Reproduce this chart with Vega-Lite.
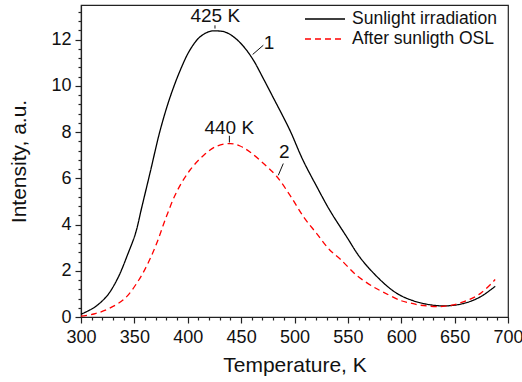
{
  "$schema": "https://vega.github.io/schema/vega-lite/v6.json",
  "width": 427,
  "height": 312,
  "autosize": {"type": "none"},
  "padding": {"left": 81, "top": 5, "right": 14, "bottom": 65},
  "background": "white",
  "config": {
    "font": "Liberation Sans",
    "view": {"stroke": "#222222", "strokeWidth": 1.2},
    "axis": {
      "domainColor": "#222222", "domainWidth": 1.2,
      "tickColor": "#222222", "tickWidth": 1.2,
      "labelColor": "#111111", "titleColor": "#111111",
      "labelFont": "Liberation Sans", "titleFont": "Liberation Sans",
      "grid": false
    },
    "legend": {"labelFont": "Liberation Sans"}
  },
  "datasets": {
    "curves": [
      {"T": 300, "I": 0.12, "series": "Sunlight irradiation"},
      {"T": 306, "I": 0.25, "series": "Sunlight irradiation"},
      {"T": 313, "I": 0.43, "series": "Sunlight irradiation"},
      {"T": 320, "I": 0.7, "series": "Sunlight irradiation"},
      {"T": 326, "I": 1.01, "series": "Sunlight irradiation"},
      {"T": 335, "I": 1.73, "series": "Sunlight irradiation"},
      {"T": 344, "I": 2.74, "series": "Sunlight irradiation"},
      {"T": 351, "I": 3.61, "series": "Sunlight irradiation"},
      {"T": 357, "I": 4.76, "series": "Sunlight irradiation"},
      {"T": 365, "I": 6.3, "series": "Sunlight irradiation"},
      {"T": 374, "I": 8.05, "series": "Sunlight irradiation"},
      {"T": 383, "I": 9.45, "series": "Sunlight irradiation"},
      {"T": 393, "I": 10.68, "series": "Sunlight irradiation"},
      {"T": 402, "I": 11.55, "series": "Sunlight irradiation"},
      {"T": 411, "I": 12.1, "series": "Sunlight irradiation"},
      {"T": 420, "I": 12.35, "series": "Sunlight irradiation"},
      {"T": 426, "I": 12.38, "series": "Sunlight irradiation"},
      {"T": 435, "I": 12.33, "series": "Sunlight irradiation"},
      {"T": 443, "I": 12.12, "series": "Sunlight irradiation"},
      {"T": 452, "I": 11.72, "series": "Sunlight irradiation"},
      {"T": 461, "I": 11.15, "series": "Sunlight irradiation"},
      {"T": 471, "I": 10.3, "series": "Sunlight irradiation"},
      {"T": 480, "I": 9.5, "series": "Sunlight irradiation"},
      {"T": 489, "I": 8.7, "series": "Sunlight irradiation"},
      {"T": 496, "I": 8.05, "series": "Sunlight irradiation"},
      {"T": 508, "I": 6.78, "series": "Sunlight irradiation"},
      {"T": 521, "I": 5.63, "series": "Sunlight irradiation"},
      {"T": 533, "I": 4.62, "series": "Sunlight irradiation"},
      {"T": 549, "I": 3.46, "series": "Sunlight irradiation"},
      {"T": 561, "I": 2.6, "series": "Sunlight irradiation"},
      {"T": 574, "I": 1.9, "series": "Sunlight irradiation"},
      {"T": 589, "I": 1.25, "series": "Sunlight irradiation"},
      {"T": 599, "I": 0.94, "series": "Sunlight irradiation"},
      {"T": 609, "I": 0.74, "series": "Sunlight irradiation"},
      {"T": 621, "I": 0.58, "series": "Sunlight irradiation"},
      {"T": 639, "I": 0.48, "series": "Sunlight irradiation"},
      {"T": 658, "I": 0.58, "series": "Sunlight irradiation"},
      {"T": 674, "I": 0.87, "series": "Sunlight irradiation"},
      {"T": 688, "I": 1.33, "series": "Sunlight irradiation"},
      {"T": 300, "I": 0.04, "series": "After sunligth OSL"},
      {"T": 312, "I": 0.13, "series": "After sunligth OSL"},
      {"T": 326, "I": 0.36, "series": "After sunligth OSL"},
      {"T": 341, "I": 0.8, "series": "After sunligth OSL"},
      {"T": 354, "I": 1.59, "series": "After sunligth OSL"},
      {"T": 363, "I": 2.35, "series": "After sunligth OSL"},
      {"T": 371, "I": 3.2, "series": "After sunligth OSL"},
      {"T": 380, "I": 4.35, "series": "After sunligth OSL"},
      {"T": 390, "I": 5.45, "series": "After sunligth OSL"},
      {"T": 402, "I": 6.35, "series": "After sunligth OSL"},
      {"T": 415, "I": 7.0, "series": "After sunligth OSL"},
      {"T": 427, "I": 7.39, "series": "After sunligth OSL"},
      {"T": 440, "I": 7.5, "series": "After sunligth OSL"},
      {"T": 449, "I": 7.4, "series": "After sunligth OSL"},
      {"T": 458, "I": 7.15, "series": "After sunligth OSL"},
      {"T": 471, "I": 6.64, "series": "After sunligth OSL"},
      {"T": 483, "I": 6.1, "series": "After sunligth OSL"},
      {"T": 496, "I": 5.25, "series": "After sunligth OSL"},
      {"T": 509, "I": 4.3, "series": "After sunligth OSL"},
      {"T": 521, "I": 3.6, "series": "After sunligth OSL"},
      {"T": 533, "I": 2.9, "series": "After sunligth OSL"},
      {"T": 543, "I": 2.5, "series": "After sunligth OSL"},
      {"T": 558, "I": 1.81, "series": "After sunligth OSL"},
      {"T": 574, "I": 1.3, "series": "After sunligth OSL"},
      {"T": 583, "I": 1.08, "series": "After sunligth OSL"},
      {"T": 599, "I": 0.72, "series": "After sunligth OSL"},
      {"T": 609, "I": 0.6, "series": "After sunligth OSL"},
      {"T": 618, "I": 0.51, "series": "After sunligth OSL"},
      {"T": 639, "I": 0.46, "series": "After sunligth OSL"},
      {"T": 658, "I": 0.65, "series": "After sunligth OSL"},
      {"T": 674, "I": 1.01, "series": "After sunligth OSL"},
      {"T": 688, "I": 1.62, "series": "After sunligth OSL"}
    ],
    "labels": [
      {"T": 425.8, "I": 12.77, "text": "425 K"},
      {"T": 438.9, "I": 7.91, "text": "440 K"},
      {"T": 476.1, "I": 11.58, "text": "1"},
      {"T": 490.4, "I": 6.86, "text": "2"}
    ],
    "leaders": [
      {"T": 425.5, "I": 12.62, "T2": 425.5, "I2": 12.48},
      {"T": 439, "I": 7.84, "T2": 439, "I2": 7.55},
      {"T": 460.8, "I": 11.36, "T2": 470.8, "I2": 11.76},
      {"T": 484.8, "I": 6.13, "T2": 489.5, "I2": 6.64}
    ]
  },
  "layer": [
    {
      "data": {"name": "curves"},
      "mark": {"type": "line", "interpolate": "catmull-rom", "strokeWidth": 1.3},
      "encoding": {
        "x": {
          "field": "T", "type": "quantitative",
          "scale": {"domain": [300, 700], "nice": false, "zero": false},
          "axis": {
            "orient": "bottom", "title": "Temperature, K",
            "values": [300, 350, 400, 450, 500, 550, 600, 650, 700],
            "tickSize": 6, "labelPadding": 5, "labelFontSize": 18,
            "titleFontSize": 21, "titleFontWeight": "normal", "titlePadding": 8,
            "labelFlush": false, "labelOverlap": false
          }
        },
        "y": {
          "field": "I", "type": "quantitative",
          "scale": {"domain": [0, 13.5], "nice": false},
          "axis": {
            "orient": "left", "title": "Intensity, a.u.",
            "values": [0, 2, 4, 6, 8, 10, 12],
            "tickSize": 6, "labelPadding": 4, "labelFontSize": 18,
            "titleFontSize": 21, "titleFontWeight": "normal", "titlePadding": 21,
            "labelFlush": false, "labelOverlap": false
          }
        },
        "color": {
          "field": "series", "type": "nominal",
          "scale": {"domain": ["Sunlight irradiation", "After sunligth OSL"], "range": ["#000000", "#ff0000"]},
          "legend": {
            "title": null, "orient": "none", "legendX": 233, "legendY": 3,
            "symbolType": "M-2,0H2", "symbolSize": 400, "symbolStrokeWidth": 1.3,
            "labelFontSize": 17.5, "labelColor": "#111111", "labelLimit": 300,
            "labelOffset": 16, "rowPadding": 0, "padding": 0
          }
        },
        "strokeDash": {
          "field": "series", "type": "nominal",
          "scale": {"domain": ["Sunlight irradiation", "After sunligth OSL"], "range": [[1, 0], [6, 4]]},
          "legend": {
            "title": null, "orient": "none", "legendX": 233, "legendY": 3,
            "symbolType": "M-2,0H2", "symbolSize": 400, "symbolStrokeWidth": 1.3,
            "labelFontSize": 17.5, "labelColor": "#111111", "labelLimit": 300,
            "labelOffset": 16, "rowPadding": 0, "padding": 0
          }
        }
      }
    },
    {
      "data": {"name": "curves"},
      "mark": {"type": "point", "opacity": 0},
      "encoding": {
        "x": {
          "field": "T", "type": "quantitative",
          "axis": {
            "orient": "bottom", "title": null, "labels": false, "domain": false,
            "values": [310, 320, 330, 340, 360, 370, 380, 390, 410, 420, 430, 440, 460, 470, 480, 490, 510, 520, 530, 540, 560, 570, 580, 590, 610, 620, 630, 640, 660, 670, 680, 690],
            "tickSize": 3
          }
        },
        "y": {
          "field": "I", "type": "quantitative",
          "axis": {
            "orient": "left", "title": null, "labels": false, "domain": false,
            "values": [0.4, 0.8, 1.2, 1.6, 2.4, 2.8, 3.2, 3.6, 4.4, 4.8, 5.2, 5.6, 6.4, 6.8, 7.2, 7.6, 8.4, 8.8, 9.2, 9.6, 10.4, 10.8, 11.2, 11.6, 12.4, 12.8, 13.2],
            "tickSize": 3
          }
        }
      }
    },
    {
      "data": {"name": "leaders"},
      "mark": {"type": "rule", "color": "#111111", "strokeWidth": 1},
      "encoding": {
        "x": {"field": "T", "type": "quantitative", "axis": null},
        "y": {"field": "I", "type": "quantitative", "axis": null},
        "x2": {"field": "T2"},
        "y2": {"field": "I2"}
      }
    },
    {
      "data": {"name": "labels"},
      "mark": {"type": "text", "fontSize": 19, "font": "Liberation Sans", "align": "center", "baseline": "alphabetic", "color": "#111111"},
      "encoding": {
        "x": {"field": "T", "type": "quantitative", "axis": null},
        "y": {"field": "I", "type": "quantitative", "axis": null},
        "text": {"field": "text"}
      }
    }
  ],
  "resolve": {"axis": {"x": "independent", "y": "independent"}}
}
